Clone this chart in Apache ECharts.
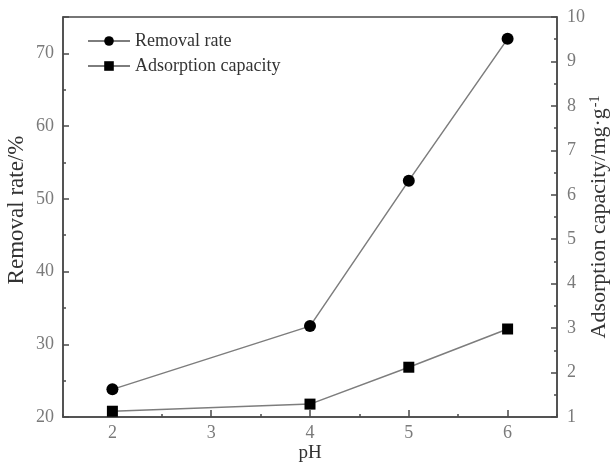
<!DOCTYPE html>
<html>
<head>
<meta charset="utf-8">
<script src="https://cdn.jsdelivr.net/npm/echarts@6/dist/echarts.min.js"></script>
<style>
  html, body { margin: 0; padding: 0; background: #fff; }
  #chart { width: 612px; height: 465px; }
</style>
</head>
<body>
<div id="chart"></div>
<script>
// pH values tested
const phValues = [2, 4, 5, 6];
// Removal rate (%) at each pH
const removalRate = [23.8, 32.5, 52.5, 72.0];
// Adsorption capacity (mg·g-1) at each pH
const adsorptionCapacity = [1.13, 1.29, 2.12, 2.98];
// Axis tick values
const xMajorTicks = [2, 3, 4, 5, 6];
const xMinorTicks = [1.5, 2.5, 3.5, 4.5, 5.5, 6.5];

const serif = '"Liberation Serif", "DejaVu Serif", serif';
const axisColor = '#4a4a4a';
const labelColor = '#7a7a7a';
const titleColor = '#333';

const chart = echarts.init(document.getElementById('chart'), null, { renderer: 'canvas' });

const pairs = (xs, ys) => xs.map((x, i) => [x, ys[i]]);

chart.setOption({
  animation: false,
  backgroundColor: '#fff',
  grid: {
    left: 63, right: 55, top: 17, bottom: 48,
    outerBoundsMode: 'none', containLabel: false,
    show: true, borderColor: axisColor, borderWidth: 1.5, backgroundColor: 'transparent'
  },
  legend: {
    orient: 'vertical',
    left: 82, top: 27,
    itemWidth: 42, itemHeight: 12, itemGap: 7,
    textStyle: { fontFamily: serif, fontSize: 18, color: titleColor },
    data: ['Removal rate', 'Adsorption capacity']
  },
  xAxis: [
    {
      type: 'value', min: 1.5, max: 6.5,
      name: 'pH', nameLocation: 'middle', nameGap: 27, nameMoveOverlap: false,
      nameTextStyle: { fontFamily: serif, fontSize: 19, color: titleColor },
      axisLine: { show: true, onZero: false, lineStyle: { color: axisColor, width: 1.5 } },
      axisTick: { show: true, inside: true, length: 7, customValues: xMajorTicks, lineStyle: { color: axisColor, width: 1.5 } },
      axisLabel: { customValues: xMajorTicks, margin: 7, fontFamily: serif, fontSize: 18, color: labelColor },
      splitLine: { show: false }
    },
    {
      type: 'value', min: 1.5, max: 6.5, position: 'bottom',
      axisLine: { show: false },
      axisTick: { show: true, inside: true, length: 3, customValues: xMinorTicks, lineStyle: { color: axisColor, width: 1.5 } },
      axisLabel: { show: false },
      splitLine: { show: false }
    }
  ],
  yAxis: [
    {
      type: 'value', min: 20, max: 75, interval: 10,
      name: 'Removal rate/%', nameLocation: 'middle', nameGap: 35, nameMoveOverlap: false,
      nameTextStyle: { fontFamily: serif, fontSize: 23, color: titleColor, padding: [0, 0, 0, 14] },
      axisLine: { show: true, onZero: false, lineStyle: { color: axisColor, width: 1.5 } },
      axisTick: { show: true, inside: true, length: 6, lineStyle: { color: axisColor, width: 1.5 } },
      minorTick: { show: true, splitNumber: 2, length: 3, lineStyle: { color: axisColor, width: 1.5 } },
      axisLabel: { showMaxLabel: false, margin: 9, fontFamily: serif, fontSize: 18, color: labelColor },
      splitLine: { show: false }
    },
    {
      type: 'value', min: 1, max: 10, interval: 1, position: 'right',
      name: '{t|Adsorption capacity/mg·g}{s|-1}', nameLocation: 'middle', nameGap: 31, nameMoveOverlap: false,
      nameTextStyle: {
        fontFamily: serif, fontSize: 22, color: titleColor,
        rich: {
          t: { fontFamily: serif, fontSize: 22, color: titleColor, lineHeight: 22 },
          s: { fontFamily: serif, fontSize: 14, color: titleColor, verticalAlign: 'top', lineHeight: 22, padding: [0, 0, 8, 1] }
        }
      },
      axisLine: { show: true, onZero: false, lineStyle: { color: axisColor, width: 1.5 } },
      axisTick: { show: true, inside: true, length: 6, lineStyle: { color: axisColor, width: 1.5 } },
      minorTick: { show: true, splitNumber: 2, length: 3, lineStyle: { color: axisColor, width: 1.5 } },
      axisLabel: { margin: 10, fontFamily: serif, fontSize: 18, color: labelColor },
      splitLine: { show: false }
    }
  ],
  series: [
    {
      name: 'Removal rate', type: 'line', xAxisIndex: 0, yAxisIndex: 0,
      data: pairs(phValues, removalRate),
      symbol: 'circle', symbolSize: 12,
      itemStyle: { color: '#000' },
      lineStyle: { color: '#7d7d7d', width: 1.5 },
      z: 5
    },
    {
      name: 'Adsorption capacity', type: 'line', xAxisIndex: 0, yAxisIndex: 1,
      data: pairs(phValues, adsorptionCapacity),
      symbol: 'rect', symbolSize: 11,
      itemStyle: { color: '#000' },
      lineStyle: { color: '#7d7d7d', width: 1.5 },
      z: 5
    }
  ]
});
</script>
</body>
</html>
